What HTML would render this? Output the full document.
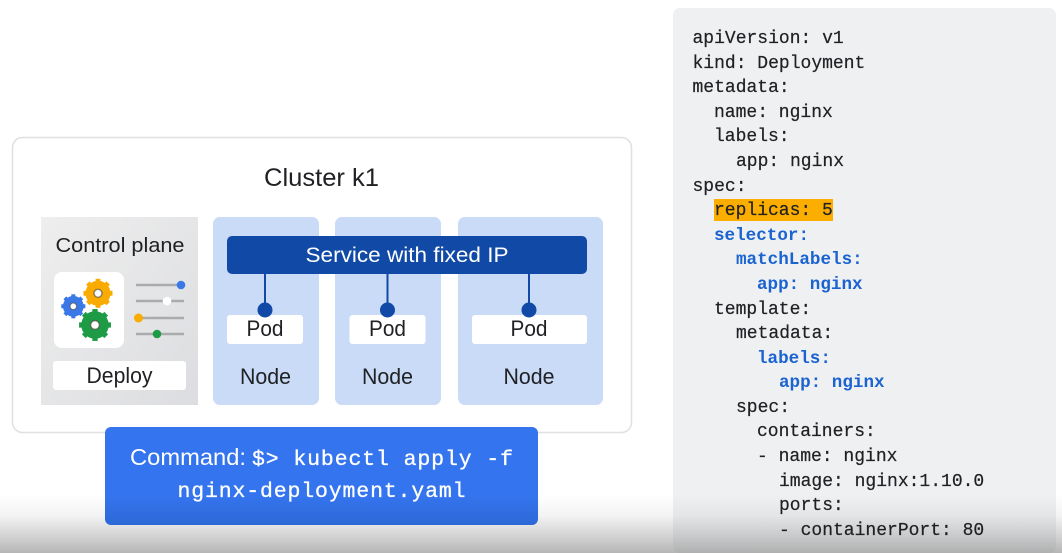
<!DOCTYPE html>
<html><head><meta charset="utf-8"><style>
html,body{margin:0;padding:0;background:#fff;width:1062px;height:553px;overflow:hidden}
svg{display:block}
.s{font-family:"Liberation Sans",sans-serif}
.m{font-family:"Liberation Mono",monospace;font-size:18px;fill:#202124;stroke:#202124;stroke-width:.2px}
.b{fill:#1a63d0;stroke:none;font-weight:bold;font-size:17.6px}
</style></head><body>
<svg width="1062" height="553" viewBox="0 0 1062 553" xmlns="http://www.w3.org/2000/svg">
<defs>
<linearGradient id="fade" x1="0" y1="0" x2="0" y2="1"><stop offset="0" stop-color="#888" stop-opacity="0"/><stop offset=".35" stop-color="#888" stop-opacity=".1"/><stop offset=".7" stop-color="#888" stop-opacity=".36"/><stop offset="1" stop-color="#888" stop-opacity=".62"/></linearGradient>
<linearGradient id="blue" x1="0" y1="0" x2="0" y2="1"><stop offset="0" stop-color="#3474ee"/><stop offset=".7" stop-color="#3474ee"/><stop offset="1" stop-color="#2d68d6"/></linearGradient>
<linearGradient id="cp" x1="0" y1="0" x2="1" y2="1"><stop offset="0" stop-color="#eeeeee"/><stop offset="1" stop-color="#dcdde0"/></linearGradient>
<g id="gear"><circle r="12.500" fill="currentColor"/><g stroke="currentColor" stroke-width="4.800"><line x1="0" y1="-14.500" x2="0" y2="14.500"/><line x1="-14.500" y1="0" x2="14.500" y2="0"/><line x1="-10.200" y1="-10.200" x2="10.200" y2="10.200"/><line x1="-10.200" y1="10.200" x2="10.200" y2="-10.200"/></g><circle r="4" fill="#fff" stroke="#4b4b40" stroke-opacity=".65" stroke-width="1.400"/></g>
</defs>
<rect x="673" y="8" width="383" height="545" rx="7" fill="#eff0f2"/>
<rect x="12.500" y="137.500" width="619" height="295" rx="10" fill="#fff" stroke="#dfe0e2" stroke-width="1.500"/>
<text class="s" x="321.500" y="186" font-size="25" text-anchor="middle" fill="#202124" textLength="115" lengthAdjust="spacingAndGlyphs">Cluster k1</text>
<rect x="41" y="217" width="157" height="188" fill="url(#cp)"/>
<text class="s" x="120" y="252" font-size="20" text-anchor="middle" fill="#202124" textLength="129" lengthAdjust="spacingAndGlyphs">Control plane</text>
<rect x="54" y="272" width="70" height="76" rx="8" fill="#fff"/>
<use href="#gear" transform="translate(98 293.300)" style="color:#f9ab00"/>
<use href="#gear" transform="translate(73.300 306.300) scale(.83)" style="color:#3b78e7"/>
<use href="#gear" transform="translate(95 325) scale(1.100)" style="color:#1e9b45"/>
<g stroke="#a9abae" stroke-width="2.400">
<line x1="136" y1="285" x2="184" y2="285"/><line x1="136" y1="301" x2="184" y2="301"/><line x1="136" y1="318" x2="184" y2="318"/><line x1="136" y1="334" x2="184" y2="334"/>
</g>
<circle cx="181" cy="285" r="4.300" fill="#3b78e7"/><circle cx="167" cy="301" r="4.300" fill="#fff"/><circle cx="138.500" cy="318" r="4.500" fill="#f9ab00"/><circle cx="157" cy="334" r="4.300" fill="#1e9b45"/>
<rect x="53" y="361" width="133" height="29" rx="3" fill="#fff"/>
<text class="s" x="119.500" y="383" font-size="22" text-anchor="middle" fill="#202124" textLength="66" lengthAdjust="spacingAndGlyphs">Deploy</text>
<rect x="213" y="217" width="106" height="188" rx="7" fill="#c9dbf6"/>
<rect x="335" y="217" width="106" height="188" rx="7" fill="#c9dbf6"/>
<rect x="458" y="217" width="145" height="188" rx="7" fill="#c9dbf6"/>
<rect x="227" y="236" width="360" height="38" rx="5" fill="#114aa6"/>
<text class="s" x="407" y="262" font-size="21.500" text-anchor="middle" fill="#fff" textLength="203" lengthAdjust="spacingAndGlyphs">Service with fixed IP</text>
<g stroke="#114aa6" stroke-width="2"><line x1="265" y1="274" x2="265" y2="310"/><line x1="387.500" y1="274" x2="387.500" y2="310"/><line x1="529" y1="274" x2="529" y2="310"/></g>
<rect x="227" y="315" width="76" height="29" rx="3" fill="#fff"/>
<rect x="349.500" y="315" width="76" height="29" rx="3" fill="#fff"/>
<rect x="472" y="315" width="115" height="29" rx="3" fill="#fff"/>
<g fill="#114aa6"><circle cx="265" cy="310" r="7.500"/><circle cx="387.500" cy="310" r="7.500"/><circle cx="529" cy="310" r="7.500"/></g>
<g class="s" font-size="22" text-anchor="middle" fill="#202124">
<text x="265" y="336" textLength="37" lengthAdjust="spacingAndGlyphs">Pod</text>
<text x="387.500" y="336" textLength="37" lengthAdjust="spacingAndGlyphs">Pod</text>
<text x="529" y="336" textLength="37" lengthAdjust="spacingAndGlyphs">Pod</text>
<text x="265.500" y="384" textLength="51" lengthAdjust="spacingAndGlyphs">Node</text>
<text x="387.500" y="384" textLength="51" lengthAdjust="spacingAndGlyphs">Node</text>
<text x="529" y="384" textLength="51" lengthAdjust="spacingAndGlyphs">Node</text>
</g>
<rect x="714" y="199" width="119" height="22" fill="#fbae00"/>
<rect x="0" y="495" width="1062" height="58" fill="url(#fade)"/>
<g class="m" xml:space="preserve">
<text x="692.500" y="43">apiVersion: v1</text>
<text x="692.500" y="68">kind: Deployment</text>
<text x="692.500" y="92">metadata:</text>
<text x="714" y="117">name: nginx</text>
<text x="714" y="141">labels:</text>
<text x="736" y="166">app: nginx</text>
<text x="692.500" y="191">spec:</text>
<text x="714" y="215">replicas: 5</text>
<text class="b" x="714" y="240">selector:</text>
<text class="b" x="736" y="264">matchLabels:</text>
<text class="b" x="757" y="289">app: nginx</text>
<text x="714" y="314">template:</text>
<text x="736" y="338">metadata:</text>
<text class="b" x="757" y="363">labels:</text>
<text class="b" x="779" y="387">app: nginx</text>
<text x="736" y="412">spec:</text>
<text x="757" y="436">containers:</text>
<text x="757" y="461">- name: nginx</text>
<text x="779" y="486">image: nginx:1.10.0</text>
<text x="779" y="510">ports:</text>
<text x="779" y="535">- containerPort: 80</text>
</g>
<rect x="105" y="427" width="433" height="98" rx="6" fill="url(#blue)"/>
<text class="s" x="130" y="465" font-size="23.500" fill="#fff" textLength="116" lengthAdjust="spacingAndGlyphs">Command:</text>
<text x="252" y="465" font-family="'Liberation Mono',monospace" font-size="21.500" fill="#fff" stroke="#fff" stroke-width=".3" textLength="261">$&gt; kubectl apply -f</text>
<text x="321.500" y="497" font-family="'Liberation Mono',monospace" font-size="21.500" fill="#fff" stroke="#fff" stroke-width=".3" text-anchor="middle" textLength="288">nginx-deployment.yaml</text>
</svg>
</body></html>
